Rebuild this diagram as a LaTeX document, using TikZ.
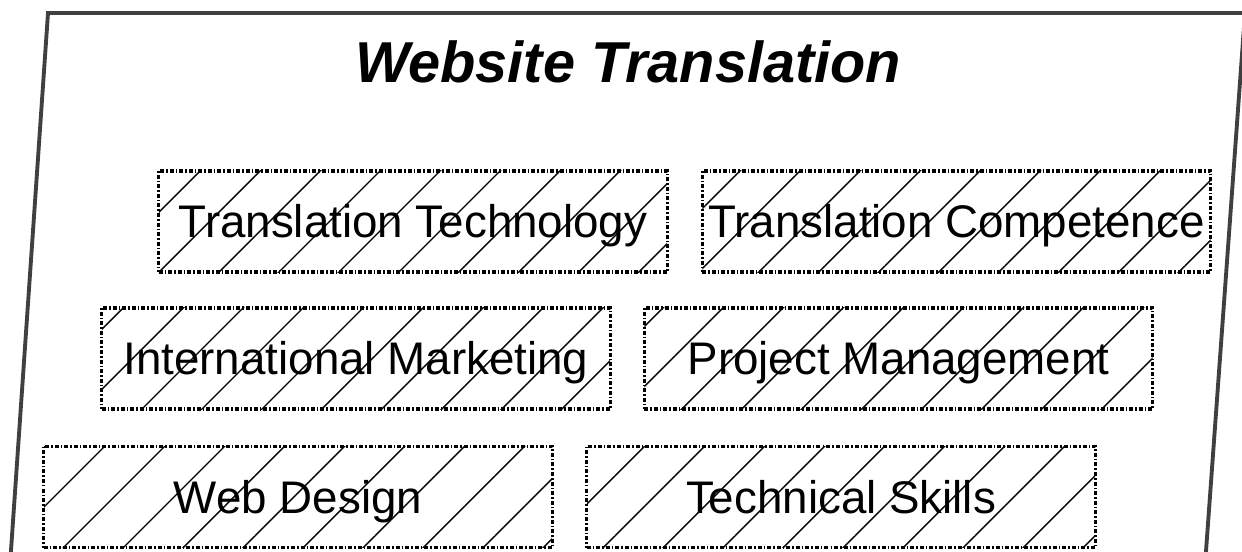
\documentclass[tikz,border=0pt]{standalone}
\usepackage{fontspec}
\setmainfont{Liberation Sans}
\usetikzlibrary{patterns.meta}

\begin{document}
\begin{tikzpicture}[x=0.01cm, y=-0.01cm,
  skillbox/.style={
    pattern = {Lines[angle=45, distance=0.424cm, line width=0.4pt]},
    postaction = {draw = black, line width = .9pt,
      dash pattern = on 0.04cm off 0.02cm on 0.015cm off 0.02cm},
    minimum width = 5.08cm, minimum height = 1.01cm, inner sep = 0pt,
    text height = 9.3pt, text depth = 0pt,
    font = \fontsize{13}{15}\selectfont}]

\useasboundingbox (0,0) rectangle (1242,551);

 \draw [draw = black!75!, line width = 1.1pt] (10,565) -- (48,13) -- (1245,13) -- (1205,565);
\node (title) at (628,62) [text height = 11.74pt, text depth = 0pt, font = \fontsize{16.4}{18}\selectfont\bfseries\itshape] {Website Translation};

% first row
\node (tt) at (413,221.5) [skillbox] {Translation Technology};
\node (tc) at (956.5,221.5) [skillbox] {Translation Competence};

% second row
\node (im) at (356,358.5) [skillbox] {International Marketing};
\node (pm) at (898.5,358.5) [skillbox] {Project Management};

% third row
\node (wd) at (298,497) [skillbox] {Web Design};
\node (ts) at (841,497) [skillbox] {Technical Skills};

\end{tikzpicture}
\end{document}
